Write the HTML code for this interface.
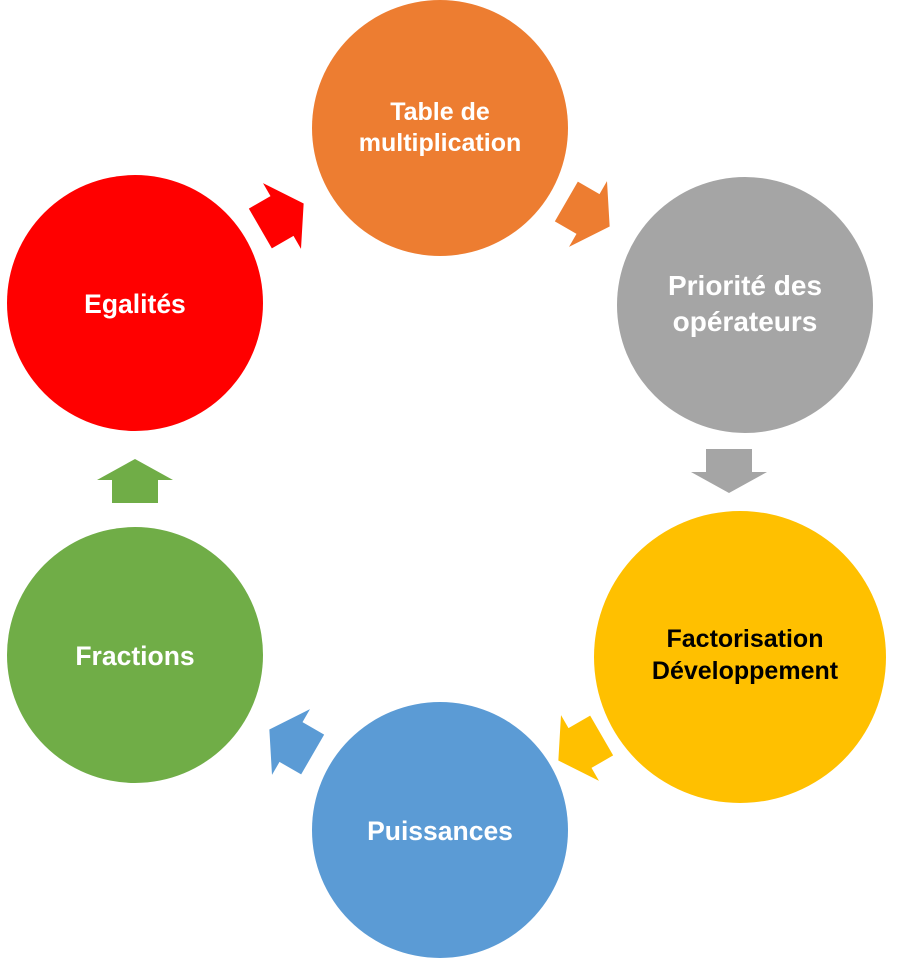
<!DOCTYPE html>
<html><head><meta charset="utf-8"><style>
html,body{margin:0;padding:0;background:#fff;}
svg{display:block;}
text{font-family:"Liberation Sans",sans-serif;font-weight:bold;font-size:25px;text-anchor:middle;letter-spacing:0px;}
.b{font-size:26.5px;}
.g{font-size:28px;}
</style></head><body>
<svg width="900" height="958" viewBox="0 0 900 958">
<defs>
<polygon id="ar" points="-25,-23 0,-23 0,-38 25,0 0,38 0,23 -25,23"/>
<polygon id="ag" points="-22,-23 1,-23 1,-38 22,0 1,38 1,23 -22,23"/>
</defs>
<circle cx="440" cy="128" r="128" fill="#ED7D31"/>
<circle cx="745" cy="305" r="128" fill="#A5A5A5"/>
<circle cx="740" cy="657" r="146" fill="#FFC000"/>
<circle cx="440" cy="830" r="128" fill="#5B9BD5"/>
<circle cx="135" cy="655" r="128" fill="#70AD47"/>
<circle cx="135" cy="303" r="128" fill="#FF0000"/>

<use href="#ar" fill="#ED7D31" transform="translate(588,214) rotate(30)"/>
<use href="#ag" fill="#A5A5A5" transform="translate(729,471) rotate(90)"/>
<use href="#ar" fill="#FFC000" transform="translate(580,748) rotate(150)"/>
<use href="#ar" fill="#5B9BD5" transform="translate(291,742) rotate(210)"/>
<use href="#ag" fill="#70AD47" transform="translate(135,481) rotate(270)"/>
<use href="#ar" fill="#FF0000" transform="translate(282,216) rotate(330)"/>

<text x="440" y="120" fill="#fff">Table de</text>
<text x="440" y="151" fill="#fff">multiplication</text>
<text class="g" x="745" y="295" fill="#fff">Priorité des</text>
<text class="g" x="745" y="331" fill="#fff">opérateurs</text>
<text x="745" y="647" fill="#000">Factorisation</text>
<text x="745" y="679" fill="#000">Développement</text>
<text class="b" x="440" y="840" fill="#fff">Puissances</text>
<text class="b" x="135" y="665" fill="#fff">Fractions</text>
<text class="b" x="135" y="313" fill="#fff">Egalités</text>
</svg>
</body></html>
